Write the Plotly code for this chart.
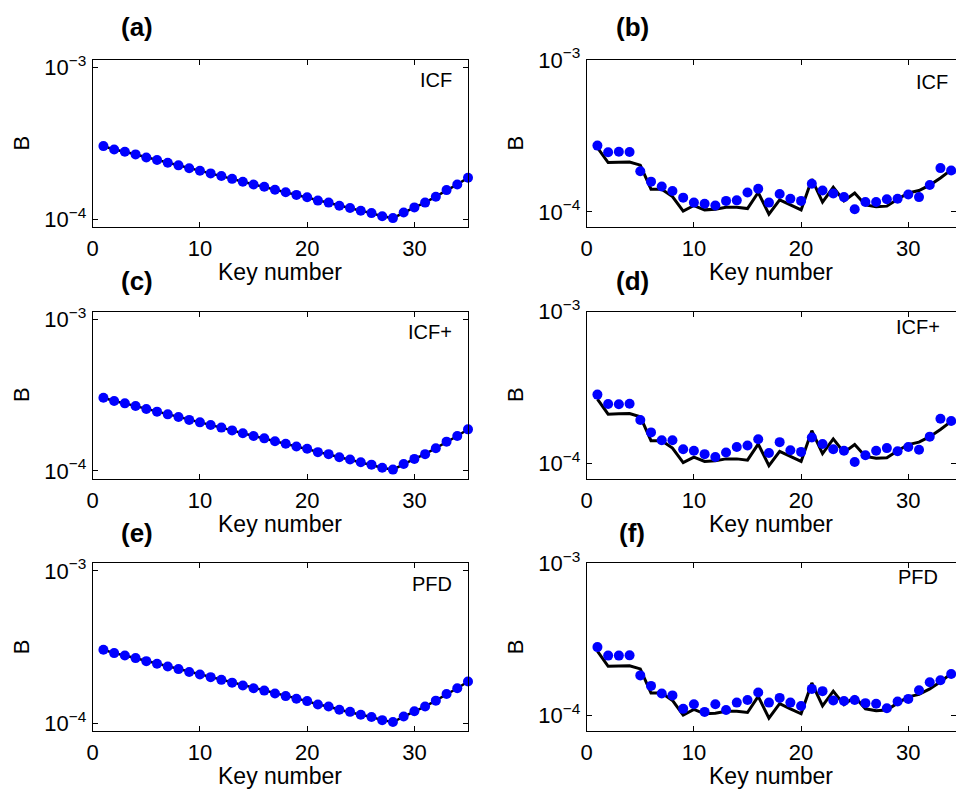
import plotly.graph_objects as go

# ---------------- data ----------------
keys_left = list(range(1, 36))
keys_right = list(range(1, 35))

# left panels (a), (c), (e): measured B and model (coincident)
B_left = [3.04e-4, 2.89e-4, 2.79e-4, 2.68e-4, 2.56e-4, 2.46e-4, 2.36e-4, 2.27e-4, 2.17e-4, 2.09e-4,
          2.01e-4, 1.93e-4, 1.85e-4, 1.77e-4, 1.70e-4, 1.64e-4, 1.57e-4, 1.51e-4, 1.45e-4, 1.40e-4,
          1.33e-4, 1.29e-4, 1.23e-4, 1.19e-4, 1.14e-4, 1.10e-4, 1.05e-4, 1.02e-4, 1.11e-4, 1.20e-4,
          1.29e-4, 1.41e-4, 1.56e-4, 1.70e-4, 1.88e-4]
model_left = list(B_left)

# right panels: model line (black)
model_right = [2.65e-4, 2.11e-4, 2.12e-4, 2.13e-4, 2.03e-4, 1.41e-4, 1.41e-4, 1.26e-4, 1.01e-4, 1.10e-4,
               1.03e-4, 1.04e-4, 1.07e-4, 1.07e-4, 1.05e-4, 1.34e-4, 0.965e-4, 1.20e-4, 1.11e-4, 1.03e-4,
               1.64e-4, 1.16e-4, 1.45e-4, 1.18e-4, 1.33e-4, 1.11e-4, 1.08e-4, 1.09e-4, 1.21e-4, 1.33e-4,
               1.38e-4, 1.50e-4, 1.67e-4, 1.89e-4]

# right panels: estimates (blue dots)
B_icf = [2.73e-4, 2.47e-4, 2.49e-4, 2.48e-4, 1.85e-4, 1.58e-4, 1.47e-4, 1.37e-4, 1.24e-4, 1.15e-4,
         1.13e-4, 1.10e-4, 1.18e-4, 1.19e-4, 1.34e-4, 1.42e-4, 1.15e-4, 1.31e-4, 1.22e-4, 1.18e-4,
         1.53e-4, 1.38e-4, 1.32e-4, 1.25e-4, 1.04e-4, 1.16e-4, 1.16e-4, 1.21e-4, 1.22e-4, 1.30e-4,
         1.25e-4, 1.50e-4, 1.94e-4, 1.87e-4]
B_icfplus = [2.84e-4, 2.46e-4, 2.45e-4, 2.47e-4, 1.93e-4, 1.60e-4, 1.42e-4, 1.42e-4, 1.24e-4, 1.21e-4,
             1.15e-4, 1.10e-4, 1.18e-4, 1.28e-4, 1.31e-4, 1.44e-4, 1.17e-4, 1.38e-4, 1.22e-4, 1.19e-4,
             1.48e-4, 1.34e-4, 1.24e-4, 1.21e-4, 1.02e-4, 1.13e-4, 1.21e-4, 1.26e-4, 1.20e-4, 1.28e-4,
             1.23e-4, 1.50e-4, 1.97e-4, 1.90e-4]
B_pfd = [2.82e-4, 2.48e-4, 2.48e-4, 2.49e-4, 1.84e-4, 1.57e-4, 1.40e-4, 1.36e-4, 1.11e-4, 1.19e-4,
         1.06e-4, 1.19e-4, 1.09e-4, 1.22e-4, 1.27e-4, 1.42e-4, 1.22e-4, 1.31e-4, 1.22e-4, 1.16e-4,
         1.50e-4, 1.45e-4, 1.26e-4, 1.25e-4, 1.27e-4, 1.21e-4, 1.20e-4, 1.12e-4, 1.24e-4, 1.29e-4,
         1.47e-4, 1.66e-4, 1.71e-4, 1.88e-4]

panel_letters = ["(a)", "(b)", "(c)", "(d)", "(e)", "(f)"]
method_names = ["ICF", "ICF", "ICF+", "ICF+", "PFD", "PFD"]
x_ticks = [0, 10, 20, 30]
y_tickvals = [1e-4, 1e-3]
y_ticktext = ["10<sup>\u22124</sup>", "10<sup>\u22123</sup>"]
x_title = "Key number"
y_title = "B"

# ---------------- layout geometry ----------------
W, H = 956, 789
FONT = "Liberation Sans, Arial, Helvetica, sans-serif"

def px(x):
    return x / W

def py(y):
    return 1 - y / H

col_x = [(92.7, 468.0), (586.7, 956.0)]
row_y = [(60.0, 227.0), (311.7, 478.5), (563.3, 731.0)]

panels = []
for r in range(3):
    panels.append(("L", r, keys_left, B_left, model_left))
    panels.append(("R", r, keys_right, [B_icf, B_icfplus, B_pfd][r], model_right))

fig = go.Figure()
layout = {}
for i, (side, r, keys, dots, model) in enumerate(panels):
    n = i + 1
    c = 0 if side == "L" else 1
    xa = "x" if n == 1 else f"x{n}"
    ya = "y" if n == 1 else f"y{n}"
    fig.add_trace(go.Scatter(x=keys, y=model, xaxis=xa, yaxis=ya, mode="lines",
                             line=dict(color="black", width=3 if side == "R" else 2.5),
                             showlegend=False, cliponaxis=False))
    fig.add_trace(go.Scatter(x=keys, y=dots, xaxis=xa, yaxis=ya, mode="markers",
                             marker=dict(color="#0000ff", size=10, line=dict(width=0)),
                             showlegend=False, cliponaxis=False))
    x0, x1 = col_x[c]
    y0, y1 = row_y[r]
    common = dict(showgrid=False, zeroline=False, showline=True, mirror="allticks",
                  linecolor="black", linewidth=1, ticks="inside", ticklen=5,
                  tickcolor="black", tickwidth=1, automargin=False,
                  tickfont=dict(family=FONT, size=22, color="black"))
    layout["xaxis" if n == 1 else f"xaxis{n}"] = dict(
        domain=[px(x0), px(x1)], anchor=ya,
        range=[0, 35] if side == "L" else [0, 34.45],
        tickmode="array", tickvals=x_ticks, ticklabelstandoff=2, **common)
    layout["yaxis" if n == 1 else f"yaxis{n}"] = dict(
        domain=[py(y1), py(y0)], anchor=xa, type="log",
        range=[-4.05, -2.95] if side == "L" else [-4.1, -3.0],
        tickmode="array", tickvals=y_tickvals, ticktext=y_ticktext, ticklabelstandoff=1,
        **common)

annotations = []
letter_pos = [(137, 27), (632, 27), (137, 281), (632, 281), (137, 533), (632, 533)]
name_pos = [(454, 80), (950, 82), (454, 332), (942, 327), (454, 584), (940, 577)]
for i in range(6):
    lx, ly = letter_pos[i]
    annotations.append(dict(x=px(lx), y=py(ly), xref="paper", yref="paper",
                            text=f"<b>{panel_letters[i]}</b>", showarrow=False,
                            xanchor="center", yanchor="middle",
                            font=dict(family=FONT, size=26, color="black")))
    nx, ny = name_pos[i]
    annotations.append(dict(x=px(nx), y=py(ny), xref="paper", yref="paper",
                            text=method_names[i], showarrow=False,
                            xanchor="right", yanchor="middle",
                            font=dict(family=FONT, size=20, color="black")))
for r in range(3):
    y0, y1 = row_y[r]
    for c in range(2):
        x0, x1 = col_x[c]
        annotations.append(dict(x=px((x0 + x1) / 2), y=py(y1 + 45), xref="paper", yref="paper",
                                text=x_title, showarrow=False, xanchor="center", yanchor="middle",
                                font=dict(family=FONT, size=23, color="black")))
        annotations.append(dict(x=px([21, 515][c]), y=py((y0 + y1) / 2), xref="paper", yref="paper",
                                text=y_title, showarrow=False, textangle=-90,
                                xanchor="center", yanchor="middle",
                                font=dict(family=FONT, size=22, color="black")))

fig.update_layout(width=W, height=H,
                  margin=dict(l=0, r=0, t=0, b=0, pad=0, autoexpand=False),
                  paper_bgcolor="white", plot_bgcolor="white",
                  annotations=annotations, **layout)

fig.write_html("out.html", config={"displayModeBar": False},
               post_script="document.body.style.margin='0px';document.body.style.overflow='hidden';")
